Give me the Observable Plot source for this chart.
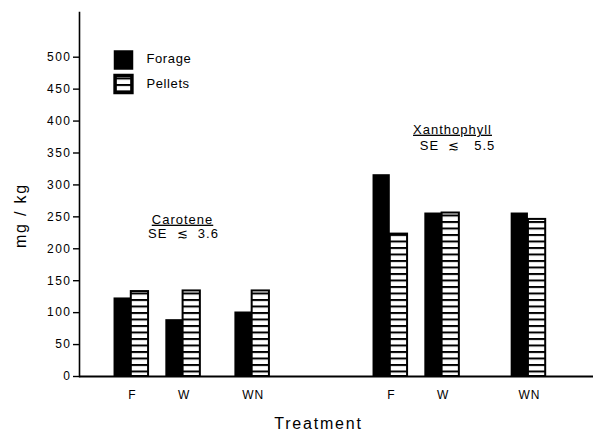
<!DOCTYPE html>
<html>
<head>
<meta charset="utf-8">
<script src="https://cdn.jsdelivr.net/npm/d3@7"></script>
<script src="https://cdn.jsdelivr.net/npm/@observablehq/plot@0.6"></script>
<style>
  body { margin: 0; background: #fff; }
  #chart svg { font-family: "Liberation Sans", Arial, sans-serif; color: #000; background: #fff; }
  #chart svg text { letter-spacing: 1px; }
</style>
</head>
<body>
<div id="chart"></div>
<script>
// ---- data ----
const treatments = ["F", "W", "WN"];
const pigments = ["Carotene", "Xanthophyll"];
const diets = ["Forage", "Pellets"];
const caroteneForage = [123, 89, 101];
const carotenePellets = [133, 134, 134];
const xanthophyllForage = [316, 256, 256];
const xanthophyllPellets = [223, 256, 246];
const yTicks = [0, 50, 100, 150, 200, 250, 300, 350, 400, 450, 500];
const seLabels = ["SE\u00a0\u00a0\u2272\u00a0\u00a03.6", "SE\u00a0\u00a0\u2272\u00a0\u00a0\u00a05.5"];
const yLabel = "mg / kg";
const xLabel = "Treatment";

// ---- layout: empty band slots before each group, and after the last ----
const gapsBefore = [[2, 1, 2], [6, 1, 3]];
const gapsAfter = 3;

const values = {
  Carotene: { Forage: caroteneForage, Pellets: carotenePellets },
  Xanthophyll: { Forage: xanthophyllForage, Pellets: xanthophyllPellets }
};

const domain = [];
let gapId = 0;
const pad = n => { for (let i = 0; i < n; i++) domain.push("gap" + (gapId++)); };
const rows = [];
pigments.forEach((p, pi) => treatments.forEach((t, ti) => {
  pad(gapsBefore[pi][ti]);
  diets.forEach(d => {
    const key = `${p}|${t}|${d}`;
    domain.push(key);
    rows.push({ key, pigment: p, treatment: t, diet: d, value: values[p][d][ti] });
  });
}));
pad(gapsAfter);

const W = 593, H = 431, ML = 79, MT = 12, MB = 55;
const xRange = [ML, 597];
const bw = (xRange[1] - xRange[0]) / domain.length;
const forageKeys = rows.filter(r => r.diet === "Forage").map(r => r.key);

const tl = { frameAnchor: "top-left", lineAnchor: "middle" };

const chart = Plot.plot({
  width: W,
  height: H,
  marginLeft: ML,
  marginRight: 0,
  marginTop: MT,
  marginBottom: MB,
  x: { type: "band", domain, range: xRange, padding: 0, round: false, axis: null },
  y: { domain: [0, 570], axis: null },
  marks: [
    Plot.barY(rows.filter(r => r.diet === "Forage"), { x: "key", y: "value", fill: "black" }),
    Plot.barY(rows.filter(r => r.diet === "Pellets"), { x: "key", y: "value", fill: "url(#stripes)", stroke: "black", strokeWidth: 2 }),
    Plot.ruleY([0], { strokeWidth: 2 }),
    Plot.frame({ anchor: "left", strokeWidth: 1.6 }),
    Plot.axisY({ ticks: yTicks, tickSize: 6, tickPadding: 2, fontSize: 12, label: null, strokeWidth: 1.4 }),
    Plot.axisX({ ticks: forageKeys, tickFormat: k => k.split("|")[1], tickSize: 0, tickPadding: 14, dx: bw / 2 + 1, fontSize: 12, label: null }),
    Plot.text([xLabel], { frameAnchor: "bottom", lineAnchor: "middle", textAnchor: "middle", dx: -18, dy: 47, fontSize: 16 }),
    Plot.text([yLabel], { frameAnchor: "left", textAnchor: "middle", lineAnchor: "middle", rotate: -90, dx: -59, dy: 21, fontSize: 16 }),
    // legend
    Plot.dot([diets[0]], { frameAnchor: "top-left", dx: 44, dy: 47.5, symbol: "square", r: 11, fill: "black" }),
    Plot.dot([diets[1]], { frameAnchor: "top-left", dx: 44, dy: 71.5, symbol: "square", r: 9.5, fill: "url(#stripes)", stroke: "black", strokeWidth: 3.5 }),
    Plot.text([diets[0]], { ...tl, textAnchor: "start", dx: 67, dy: 46.5, fontSize: 13 }),
    Plot.text([diets[1]], { ...tl, textAnchor: "start", dx: 67, dy: 71, fontSize: 13 }),
    // annotations
    Plot.text([pigments[0]], { ...tl, textAnchor: "middle", dx: 103, dy: 207, fontSize: 13 }),
    Plot.text([seLabels[0]], { ...tl, textAnchor: "middle", dx: 104, dy: 221, fontSize: 13 }),
    Plot.text([pigments[1]], { ...tl, textAnchor: "middle", dx: 373, dy: 117, fontSize: 13 }),
    Plot.text([seLabels[1]], { ...tl, textAnchor: "middle", dx: 378, dy: 133, fontSize: 13 })
  ]
});

// stripe pattern for the pellet bars
const svg = d3.select(chart);
const pat = svg.insert("defs", ":first-child").append("pattern")
  .attr("id", "stripes").attr("patternUnits", "userSpaceOnUse")
  .attr("width", 20).attr("height", 6.5);
pat.append("rect").attr("width", 20).attr("height", 6.5).attr("fill", "white");
pat.append("rect").attr("width", 20).attr("height", 2).attr("fill", "black");

// underline pigment names, letter spacing tweaks
svg.selectAll("text").each(function () {
  const t = this.textContent;
  if (pigments.includes(t)) this.style.textDecoration = "underline";
  if (t === xLabel || t === yLabel) this.style.letterSpacing = "1.8px";
  if (diets.includes(t)) this.style.letterSpacing = "0.6px";
});
svg.selectAll('g[aria-label="y-axis tick label"] text').style("letter-spacing", "1.5px");

document.getElementById("chart").appendChild(chart);
</script>
</body>
</html>
